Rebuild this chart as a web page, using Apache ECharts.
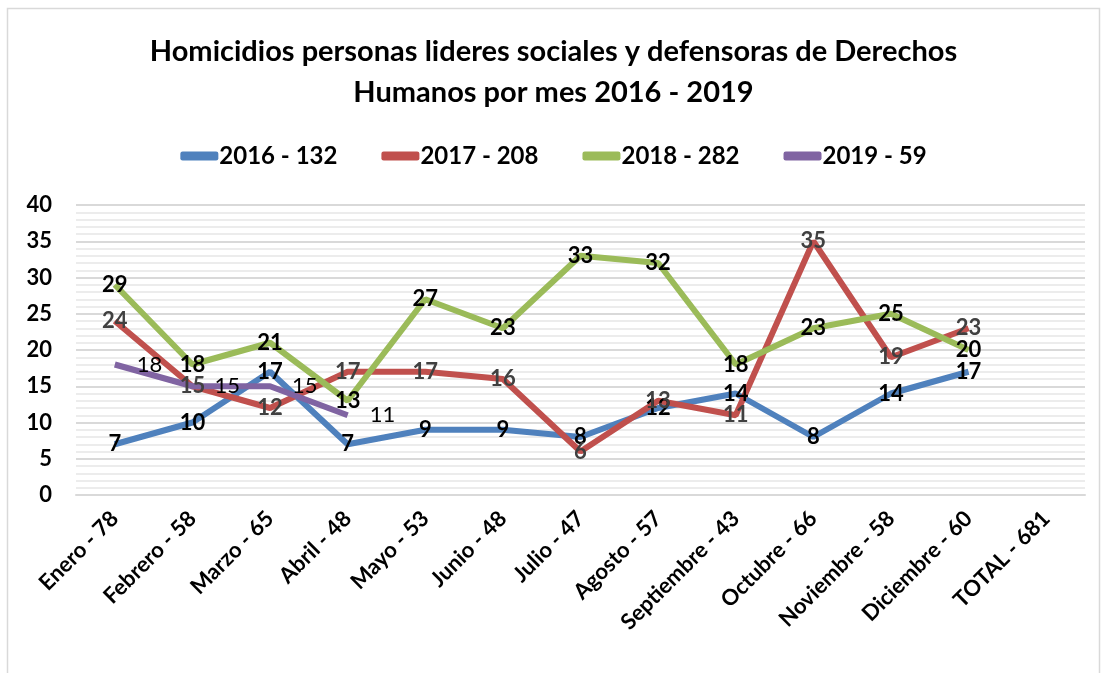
<!DOCTYPE html>
<html>
<head>
<meta charset="utf-8">
<script src="https://cdn.jsdelivr.net/npm/echarts@6/dist/echarts.min.js"></script>
<style>
  html, body { margin: 0; padding: 0; background: #fff; }
  #chart { width: 1107px; height: 673px; }
</style>
</head>
<body>
<div id="chart"></div>
<script>
const categories = ['Enero - 78', 'Febrero - 58', 'Marzo - 65', 'Abril - 48', 'Mayo - 53', 'Junio - 48',
  'Julio - 47', 'Agosto - 57', 'Septiembre - 43', 'Octubre - 66', 'Noviembre - 58', 'Diciembre - 60', 'TOTAL - 681']
const seriesNames = ['2016 - 132', '2017 - 208', '2018 - 282', '2019 - 59']
const values2016 = [7, 10, 17, 7, 9, 9, 8, 12, 14, 8, 14, 17]
const values2017 = [24, 15, 12, 17, 17, 16, 6, 13, 11, 35, 19, 23]
const values2018 = [29, 18, 21, 13, 27, 23, 33, 32, 18, 23, 25, 20]
const values2019 = [18, 15, 15, 11]

const fontFamily = 'Lato'
const colors = ['#4f81bd', '#c0504d', '#9bbb59', '#8064a2']

const myChart = echarts.init(document.getElementById('chart'))

function makeSeries (name, data, color, label) {
  return {
    name: name,
    type: 'line',
    data: data,
    symbol: 'circle',
    symbolSize: 0,
    showSymbol: true,
    lineStyle: { width: 6, color: color },
    itemStyle: { color: color },
    label: Object.assign({
      show: true,
      position: 'inside',
      fontFamily: fontFamily,
      fontSize: 22,
      fontWeight: 'bold',
      color: '#000'
    }, label)
  }
}

myChart.setOption({
  animation: false,
  color: colors,
  title: {
    text: 'Homicidios personas lideres sociales y defensoras de Derechos\nHumanos por mes 2016 - 2019',
    left: 'center',
    top: 26,
    textStyle: {
      fontFamily: fontFamily,
      fontSize: 29,
      fontWeight: 'bold',
      color: '#000',
      lineHeight: 41
    }
  },
  legend: {
    top: 139,
    left: 'center',
    itemWidth: 38,
    itemHeight: 9,
    itemGap: 44,
    icon: 'roundRect',
    data: seriesNames,
    textStyle: {
      fontFamily: fontFamily,
      fontSize: 24,
      fontWeight: 'bold',
      color: '#000',
      padding: [0, 0, 0, -4]
    }
  },
  grid: {
    top: 205,
    left: 76,
    right: 22,
    bottom: 178
  },
  xAxis: {
    type: 'category',
    data: categories,
    boundaryGap: true,
    axisLine: { show: true, lineStyle: { color: '#d9d9d9', width: 2 } },
    axisTick: { show: false },
    axisLabel: {
      interval: 0,
      rotate: 45,
      margin: 20,
      fontFamily: fontFamily,
      fontSize: 22,
      fontWeight: 'bold',
      color: '#000'
    }
  },
  yAxis: {
    type: 'value',
    min: 0,
    max: 40,
    interval: 5,
    axisLine: { show: false },
    axisTick: { show: false },
    axisLabel: {
      margin: 24,
      fontFamily: fontFamily,
      fontSize: 22,
      fontWeight: 'bold',
      color: '#000'
    },
    splitLine: { lineStyle: { color: '#d9d9d9', width: 2 } },
    minorTick: { show: false, splitNumber: 5 },
    minorSplitLine: { show: true, lineStyle: { color: '#ececec', width: 2 } }
  },
  series: [
    makeSeries(seriesNames[0], values2016, colors[0], {}),
    makeSeries(seriesNames[1], values2017, colors[1], { color: '#404040' }),
    makeSeries(seriesNames[2], values2018, colors[2], {}),
    makeSeries(seriesNames[3], values2019, colors[3], { position: 'right', distance: 22, fontWeight: 'normal' })
  ],
  graphic: [{
    type: 'rect',
    shape: { x: 7.5, y: 8.5, width: 1092, height: 680 },
    style: { fill: 'none', stroke: '#d9d9d9', lineWidth: 1.5 },
    silent: true
  }]
})

window.addEventListener('resize', () => myChart.resize())
</script>
</body>
</html>
